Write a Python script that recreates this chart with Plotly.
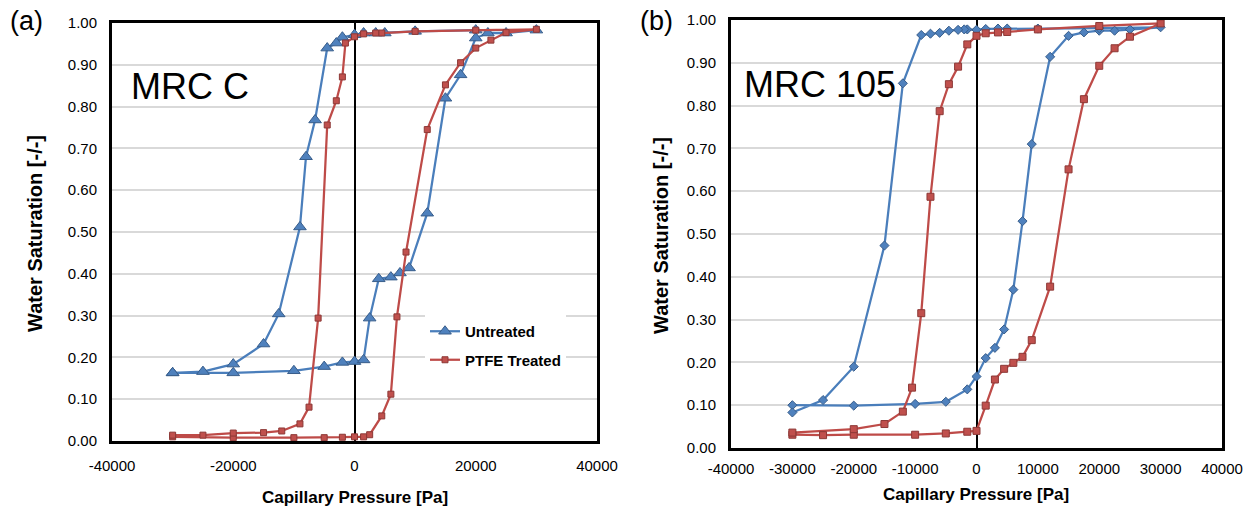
import plotly.graph_objects as go

# ---------------- data ----------------
# Panel (a): MRC C
a_untreated_p = [-30000, -20000, -10000, -5000, -2000, 0, 1500, 2500, 4000, 6000, 7500, 9000,
                 12000, 15000, 17500, 20000, 22000, 25000, 30000, 20000, 10000, 5000, 3500, 1500,
                 0, -2000, -3000, -4500, -6500, -8000, -9000, -12500, -15000, -20000, -25000, -30000]
a_untreated_s = [0.163, 0.163, 0.168, 0.178, 0.188, 0.190, 0.194, 0.294, 0.388, 0.392, 0.402, 0.414,
                 0.545, 0.820, 0.876, 0.964, 0.976, 0.976, 0.983, 0.983, 0.980, 0.976, 0.976, 0.976,
                 0.972, 0.966, 0.952, 0.940, 0.768, 0.680, 0.512, 0.304, 0.232, 0.184, 0.166, 0.163]

a_ptfe_p = [-30000, -20000, -10000, -5000, -2000, 0, 1500, 2500, 4500, 6000, 7000, 8500,
            12000, 15000, 17500, 20000, 22500, 25000, 30000, 20000, 10000, 4500, 3500, 1500,
            0, -1500, -2000, -3000, -4500, -6000, -7500, -9000, -12000, -15000, -20000, -25000, -30000]
a_ptfe_s = [0.010, 0.008, 0.008, 0.008, 0.009, 0.010, 0.010, 0.015, 0.060, 0.112, 0.297, 0.452,
            0.745, 0.852, 0.905, 0.940, 0.959, 0.977, 0.985, 0.983, 0.980, 0.976, 0.976, 0.974,
            0.967, 0.952, 0.871, 0.814, 0.756, 0.294, 0.081, 0.041, 0.024, 0.020, 0.019, 0.014, 0.014]

# Panel (b): MRC 105
b_untreated_p = [-30000, -20000, -10000, -5000, -1500, 0, 1500, 3000, 4500, 6000, 7500, 9000,
                 12000, 15000, 17500, 20000, 22500, 25000, 30000, 20000, 10000, 5000, 3500, 1500,
                 0, -1500, -2000, -3000, -4500, -6000, -7500, -9000, -12000, -15000, -20000, -25000, -30000]
b_untreated_s = [0.100, 0.099, 0.103, 0.108, 0.137, 0.167, 0.210, 0.234, 0.277, 0.370, 0.530, 0.710,
                 0.914, 0.963, 0.971, 0.975, 0.975, 0.978, 0.983, 0.981, 0.980, 0.980, 0.980, 0.979,
                 0.977, 0.978, 0.978, 0.977, 0.975, 0.970, 0.968, 0.965, 0.852, 0.473, 0.190, 0.112, 0.083]

b_ptfe_p = [-30000, -25000, -20000, -10000, -5000, -1500, 0, 1500, 3000, 4500, 6000, 7500, 9000,
            12000, 15000, 17500, 20000, 22500, 25000, 30000, 20000, 10000, 5000, 3500, 1500,
            0, -1500, -3000, -4500, -6000, -7500, -9000, -10500, -12000, -15000, -20000, -30000]
b_ptfe_s = [0.031, 0.030, 0.031, 0.031, 0.034, 0.038, 0.040, 0.099, 0.160, 0.185, 0.199, 0.213, 0.252,
            0.377, 0.651, 0.815, 0.893, 0.934, 0.961, 0.992, 0.986, 0.978, 0.972, 0.971, 0.969,
            0.963, 0.943, 0.891, 0.850, 0.787, 0.587, 0.315, 0.141, 0.085, 0.056, 0.044, 0.036]

series_names = ["Untreated", "PTFE Treated"]
y_ticks = [0.0, 0.1, 0.2, 0.3, 0.4, 0.5, 0.6, 0.7, 0.8, 0.9, 1.0]
a_x_ticks = [-40000, -20000, 0, 20000, 40000]
b_x_ticks = [-40000, -30000, -20000, -10000, 0, 10000, 20000, 30000, 40000]

# ---------------- style ----------------
W, H = 1254, 510
BLUE_LINE, BLUE_FILL, BLUE_EDGE = "#4A7EBB", "#4F81BD", "#385D8A"
RED_LINE, RED_FILL, RED_EDGE = "#BE4B48", "#C0504D", "#8C3836"
FONT = "Liberation Sans, Arial, sans-serif"

def px_x(p):
    return p / W

def px_y(p):
    return 1 - p / H

fig = go.Figure()

# panel (a)
fig.add_trace(go.Scatter(x=a_untreated_p, y=a_untreated_s, mode="lines+markers", name=series_names[0],
                         legendgroup="u", xaxis="x", yaxis="y",
                         line=dict(color=BLUE_LINE, width=2.25),
                         marker=dict(symbol="triangle-up", size=11, color=BLUE_FILL,
                                     line=dict(color=BLUE_EDGE, width=1))))
fig.add_trace(go.Scatter(x=a_ptfe_p, y=a_ptfe_s, mode="lines+markers", name=series_names[1],
                         legendgroup="p", xaxis="x", yaxis="y",
                         line=dict(color=RED_LINE, width=2.25),
                         marker=dict(symbol="square", size=6, color=RED_FILL,
                                     line=dict(color=RED_EDGE, width=1))))
# panel (b)
fig.add_trace(go.Scatter(x=b_untreated_p, y=b_untreated_s, mode="lines+markers", name=series_names[0],
                         showlegend=False, xaxis="x2", yaxis="y2",
                         line=dict(color=BLUE_LINE, width=2.25),
                         marker=dict(symbol="diamond", size=7, color=BLUE_FILL,
                                     line=dict(color=BLUE_EDGE, width=1))))
fig.add_trace(go.Scatter(x=b_ptfe_p, y=b_ptfe_s, mode="lines+markers", name=series_names[1],
                         showlegend=False, xaxis="x2", yaxis="y2",
                         line=dict(color=RED_LINE, width=2.25),
                         marker=dict(symbol="square", size=7, color=RED_FILL,
                                     line=dict(color=RED_EDGE, width=1))))

tickfont = dict(family=FONT, size=15, color="#000000")

def xaxis(domain, ticks, anchor, standoff):
    return dict(domain=domain, range=[-40000, 40000], tickmode="array", tickvals=ticks,
                ticktext=[str(t) for t in ticks], showgrid=False, zeroline=True,
                zerolinecolor="#000000", zerolinewidth=2, showline=True, linecolor="#000000",
                linewidth=3, mirror=True, ticks="", tickfont=tickfont, anchor=anchor,
                ticklabelstandoff=standoff, automargin=False, fixedrange=True)

def yaxis(domain, anchor):
    return dict(domain=domain, range=[0, 1], tickmode="array", tickvals=y_ticks,
                ticktext=[f"{v:.2f}" for v in y_ticks], showgrid=True, gridcolor="#D9D9D9",
                gridwidth=1.5, zeroline=False, showline=True, linecolor="#000000", linewidth=3,
                mirror=True, ticks="", tickfont=tickfont, anchor=anchor, ticklabelstandoff=9,
                automargin=False, fixedrange=True)

fig.update_layout(
    width=W, height=H,
    margin=dict(l=0, r=0, t=0, b=0, autoexpand=False),
    paper_bgcolor="white", plot_bgcolor="white",
    xaxis=xaxis([px_x(112), px_x(597)], a_x_ticks, "y", 9),
    yaxis=yaxis([px_y(441), px_y(23)], "x"),
    xaxis2=xaxis([px_x(731), px_x(1222)], b_x_ticks, "y2", 5),
    yaxis2=yaxis([px_y(448), px_y(20)], "x2"),
    showlegend=True,
    legend=dict(x=px_x(425), y=px_y(315), xanchor="left", yanchor="top",
                bgcolor="rgba(255,255,255,1)", borderwidth=0, tracegroupgap=6,
                font=dict(family=FONT, size=15, color="#000000", weight="bold"),
                traceorder="grouped"),
)

annos = [
    dict(text="(a)", x=px_x(8), y=px_y(21), xanchor="left", yanchor="middle",
         font=dict(family=FONT, size=27, color="#000000")),
    dict(text="(b)", x=px_x(638), y=px_y(21), xanchor="left", yanchor="middle",
         font=dict(family=FONT, size=27, color="#000000")),
    dict(text="MRC C", x=px_x(129), y=px_y(86), xanchor="left", yanchor="middle",
         font=dict(family=FONT, size=36, color="#000000")),
    dict(text="MRC 105", x=px_x(742), y=px_y(85), xanchor="left", yanchor="middle",
         font=dict(family=FONT, size=36, color="#000000")),
    dict(text="<b>Capillary Pressure [Pa]</b>", x=px_x(355), y=px_y(497), xanchor="center",
         yanchor="middle", font=dict(family=FONT, size=17, color="#000000")),
    dict(text="<b>Capillary Pressure [Pa]</b>", x=px_x(976), y=px_y(494), xanchor="center",
         yanchor="middle", font=dict(family=FONT, size=17, color="#000000")),
    dict(text="<b>Water Saturation [-/-]</b>", x=px_x(35), y=px_y(234), xanchor="center",
         yanchor="middle", textangle=-90, font=dict(family=FONT, size=20, color="#000000")),
    dict(text="<b>Water Saturation [-/-]</b>", x=px_x(661), y=px_y(236), xanchor="center",
         yanchor="middle", textangle=-90, font=dict(family=FONT, size=20, color="#000000")),
]
for a in annos:
    a.update(xref="paper", yref="paper", showarrow=False)
fig.update_layout(annotations=annos)

fig.write_html("out.html", config={"displayModeBar": False},
               post_script="document.body.style.margin='0px';document.body.style.overflow='hidden';")
